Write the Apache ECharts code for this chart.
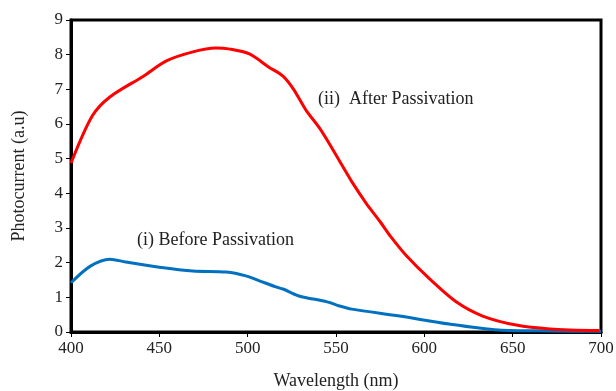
<!DOCTYPE html>
<html>
<head>
<meta charset="utf-8">
<script src="https://cdn.jsdelivr.net/npm/echarts@6/dist/echarts.min.js"></script>
<style>
  html, body { margin: 0; padding: 0; background: #fff; }
  #chart { width: 616px; height: 391px; }
</style>
</head>
<body>
<div id="chart"></div>
<script>
// wavelength (nm) and photocurrent
let afterWl = [400, 412, 422, 441, 454, 469, 482, 490, 501, 512, 520, 526, 533, 541, 548, 554, 559, 567, 575, 581, 590, 603, 618, 633, 652, 671, 699];
let afterVal = [4.87, 6.23, 6.78, 7.38, 7.82, 8.08, 8.19, 8.16, 8.02, 7.64, 7.38, 7.0, 6.4, 5.86, 5.28, 4.76, 4.33, 3.72, 3.18, 2.75, 2.19, 1.53, 0.87, 0.46, 0.2, 0.09, 0.04];
let beforeWl = [400, 411, 422, 431, 450, 469, 488, 499, 507, 516, 520, 529, 545, 552, 559, 586, 614, 642, 671, 700];
let beforeVal = [1.42, 1.9, 2.1, 2.02, 1.87, 1.76, 1.73, 1.62, 1.47, 1.3, 1.24, 1.04, 0.87, 0.75, 0.66, 0.46, 0.23, 0.06, 0.03, 0.02];

let xLabel = 'Wavelength (nm)';
let yLabel = 'Photocurrent (a.u)';
let afterName = '(ii)  After Passivation';
let beforeName = '(i) Before Passivation';

function pairs(xs, ys) {
  return xs.map(function (x, i) { return [x, ys[i]]; });
}

let font = 'Liberation Serif';
let mychart = echarts.init(document.getElementById('chart'));
mychart.setOption({
  animation: false,
  grid: {
    left: 71, right: 15, top: 20, bottom: 59,
    containLabel: false,
    outerBoundsMode: 'none',
    show: true, borderColor: '#000', borderWidth: 3
  },
  xAxis: {
    type: 'value',
    min: 400, max: 700, interval: 50,
    name: xLabel,
    nameLocation: 'middle',
    nameGap: 40,
    nameTextStyle: { fontFamily: font, fontSize: 18, color: '#222' },
    axisLine: { lineStyle: { color: '#000', width: 3 } },
    axisTick: { show: true, length: 5, lineStyle: { color: '#000' } },
    axisLabel: { fontFamily: font, fontSize: 17, color: '#222', margin: 8 },
    splitLine: { show: false }
  },
  yAxis: {
    type: 'value',
    min: 0, max: 9, interval: 1,
    name: yLabel,
    nameLocation: 'middle',
    nameGap: 43,
    nameTextStyle: { fontFamily: font, fontSize: 18, color: '#222' },
    axisLine: { show: true, lineStyle: { color: '#000', width: 3 } },
    axisTick: { show: true, length: 5, lineStyle: { color: '#000' } },
    axisLabel: { fontFamily: font, fontSize: 17, color: '#222', margin: 8 },
    splitLine: { show: false }
  },
  series: [
    {
      name: afterName,
      type: 'line',
      data: pairs(afterWl, afterVal),
      smooth: 0.3,
      showSymbol: false,
      lineStyle: { color: '#ff0000', width: 3 },
      z: 3
    },
    {
      name: beforeName,
      type: 'line',
      data: pairs(beforeWl, beforeVal),
      smooth: 0.3,
      showSymbol: false,
      lineStyle: { color: '#0070c0', width: 3 },
      z: 2
    }
  ],
  graphic: [
    {
      type: 'text', left: 318, top: 90,
      style: { text: afterName, font: '18px "Liberation Serif"', fill: '#222' }
    },
    {
      type: 'text', left: 137, top: 231,
      style: { text: beforeName, font: '18px "Liberation Serif"', fill: '#222' }
    }
  ]
});
</script>
</body>
</html>
